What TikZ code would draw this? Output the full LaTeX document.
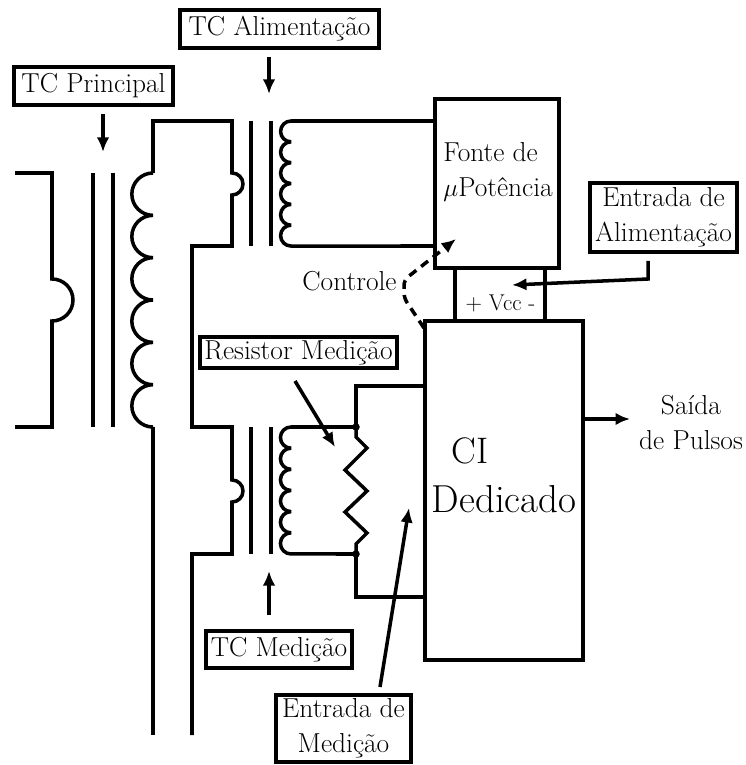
\documentclass[tikz,border=0pt]{standalone}
\usepackage{amsmath}
\usepackage{fontspec}
\setmainfont{lmroman17-regular.otf}
\usetikzlibrary{arrows.meta,calc,positioning}

\begin{document}
\begin{tikzpicture}[
    x=0.2mm, y=-0.2mm,
    >={Latex[length=2.9mm,width=2.5mm]},
    fio/.style={line width=2pt, draw=black, miter limit=2},
    sig/.style={->, line width=2pt, draw=black},
    ctl/.style={->, line width=2pt, draw=black, dash pattern=on 5pt off 3.5pt, rounded corners=3pt},
    bloco/.style={draw=black, line width=2pt, inner sep=0pt, fill=none},
    rot/.style={draw=black, line width=2pt, inner sep=0pt, font=\fontsize{15.6}{19.9}\selectfont, align=center, fill=white},
    txt/.style={font=\fontsize{15.6}{19.9}\selectfont, align=center, inner sep=0pt},
    grande/.style={font=\fontsize{21}{24}\selectfont, inner sep=0pt},
    ponto/.style={circle, fill=black, inner sep=0pt, minimum size=1.5mm},
  ]
  \useasboundingbox (0,0) rectangle (745,765);

  % blocos
  \node[bloco, minimum width=24.8mm, minimum height=33.8mm] (Fonte) at (497,183.5) {};
  \node[bloco, minimum width=31.6mm, minimum height=67.8mm] (CI) at (504,490.5) {};

  % TC principal
  \draw[fio] (15,173) -- (52,173) -- (52,279) arc[start angle=-90, end angle=90, radius=21]
             -- (52,427) -- (15,427);
  \draw[fio] (93,173) -- (93,427);
  \draw[fio] (113,173) -- (113,427);
  \draw[fio] (153,173) \foreach \k in {1,...,6} {arc[start angle=-90, end angle=-270, radius=21.17]};

  % TC alimentacao
  \draw[fio] (153,173) -- (153,121) -- (232,121) -- (232,173)
             arc[start angle=-90, end angle=90, radius=11] -- (232,246) -- (192,246) -- (192,427)
             -- (232,427) -- (232,480) arc[start angle=-90, end angle=90, radius=11]
             -- (232,554) -- (192,554) -- (192,735);
  \draw[fio] (153,427) -- (153,735);
  \draw[fio] (251,121) -- (251,246);
  \draw[fio] (271,121) -- (271,246);
  \draw[fio] (Fonte.west |- 0,121) -- (291,121)
             \foreach \k in {1,...,6} {arc[start angle=-90, end angle=-270, radius=10.42]}
             -- (Fonte.west |- 0,246);

  % TC medicao
  \draw[fio] (251,427) -- (251,554);
  \draw[fio] (271,427) -- (271,554);
  \coordinate (Rtop) at (356,427);
  \coordinate (Rbot) at (356,554);
  \draw[fio] (Rtop) -- (291,427)
             \foreach \k in {1,...,6} {arc[start angle=-90, end angle=-270, radius=10.58]}
             -- (Rbot);
  \draw[fio] (Rtop) -- (356,437) -- (367,448) -- (345,470) -- (367,491) -- (345,512)
             -- (367,533) -- (356,544) -- (Rbot);
  \draw[fio] (Rtop) -- (356,386) -- (CI.west |- 0,386);
  \draw[fio] (Rbot) -- (356,597) -- (CI.west |- 0,597);
  \node[ponto] (Pa) at (Rtop) {};
  \node[ponto] (Pb) at (Rbot) {};

  % alimentacao do CI
  \draw[fio] (455,268) -- (455,321);
  \draw[fio] (545,268) -- (545,321);
  \node[font=\fontsize{13}{15}\selectfont, inner sep=0pt, anchor=base] (Vcc) at (500.5,311) {+ Vcc -};

  % rotulos
  \node[rot, minimum width=39.8mm, minimum height=7.6mm] (TCA) at (279.5,29) {TC Alimentação};
  \node[rot, minimum width=31.8mm, minimum height=7.6mm] (TCP) at (93.5,86) {TC Principal};
  \node[rot, minimum width=39.4mm, minimum height=6.2mm] (RM) at (298.5,352.5) {Resistor Medição};
  \node[rot, minimum width=29.2mm, minimum height=7.4mm] (TCM) at (279,649.5) {TC Medição};
  \node[rot, minimum width=29.4mm, minimum height=13.8mm] (EA) at (663.5,217.5) {Entrada de\\Alimentação};
  \node[rot, minimum width=27mm, minimum height=13.4mm] (EM) at (343.5,728.5) {Entrada de\\Medição};

  \node[txt, anchor=base west] (Ft1) at (443,162) {Fonte de};
  \node[txt, anchor=base west] (Ft2) at (443,197) {$\mu$Potência};
  \node[txt, anchor=base] (Ctl) at (349.5,291) {Controle};
  \node[grande, anchor=base] (CI1) at (470,463) {CI};
  \node[grande, font=\fontsize{22.2}{24}\selectfont, anchor=base] (CI2) at (504,512) {Dedicado};
  \node[txt, anchor=base] (Sd1) at (691,414) {Saída};
  \node[txt, anchor=base] (Sd2) at (691,449) {de Pulsos};

  % setas
  \coordinate (Ap) at (103,152);
  \coordinate (Aa) at (269,94);
  \coordinate (Am) at (269,571);
  \coordinate (Ar) at (335,447);
  \coordinate (Ae) at (409,508);
  \coordinate (Av) at (512,285);
  \coordinate (Ac) at (456,239);
  \coordinate (Sp) at (630,419);
  \draw[sig] (TCP.south -| Ap) ++(0,7) -- (Ap);
  \draw[sig] (TCA.south -| Aa) ++(0,7) -- (Aa);
  \draw[sig] (TCM.north -| Am) ++(0,-14) -- (Am);
  \draw[sig] (295,381) -- (Ar);
  \draw[sig] (380,687) -- (Ae);
  \draw[sig] (EA.south -| 648,0) ++(0,7) -- (648,279) -- (Av);
  \draw[sig] (CI.east |- Sp) -- (Sp);
  \draw[ctl] (424,328) -- (404,298) -- (404,280) -- (Ac);
\end{tikzpicture}
\end{document}
